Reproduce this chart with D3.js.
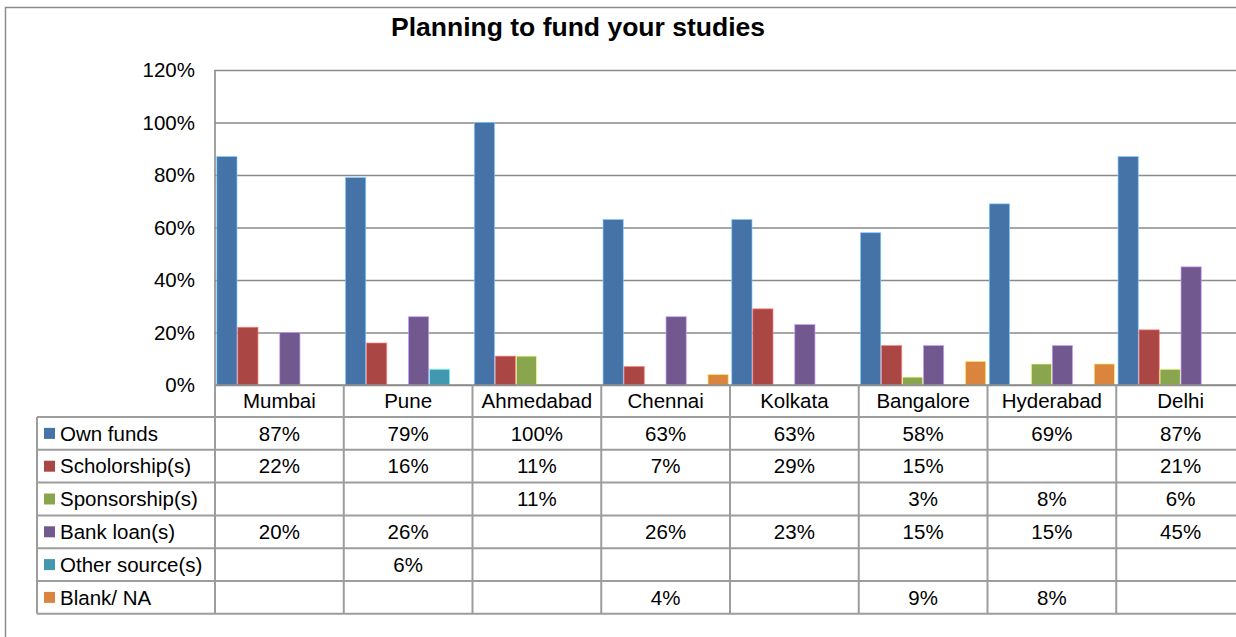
<!DOCTYPE html>
<html>
<head>
<meta charset="utf-8">
<script src="https://cdn.jsdelivr.net/npm/d3@7"></script>
<style>
  html, body { margin: 0; padding: 0; background: #fff; }
  svg { display: block; font-family: "Liberation Sans", Arial, sans-serif; }
</style>
</head>
<body>
<svg id="chart" width="1236" height="637"></svg>
<script>
const title = "Planning to fund your studies";
const categories = ["Mumbai", "Pune", "Ahmedabad", "Chennai", "Kolkata", "Bangalore", "Hyderabad", "Delhi"];
const seriesNames = ["Own funds", "Scholorship(s)", "Sponsorship(s)", "Bank loan(s)", "Other source(s)", "Blank/ NA"];
const seriesColors = ["#4572A7", "#AA4643", "#89A54E", "#71588F", "#4198AF", "#DB843D"];
const ownFunds     = [87, 79, 100, 63, 63, 58, 69, 87];
const scholarships = [22, 16, 11, 7, 29, 15, null, 21];
const sponsorships = [null, null, 11, null, null, 3, 8, 6];
const bankLoans    = [20, 26, null, 26, 23, 15, 15, 45];
const otherSources = [null, 6, null, null, null, null, null, null];
const blankNA      = [null, null, null, 4, null, 9, 8, null];
const yTicks = [0, 20, 40, 60, 80, 100, 120];

const seriesValues = [ownFunds, scholarships, sponsorships, bankLoans, otherSources, blankNA];

const svg = d3.select("#chart");
const W = 1236, H = 637;

// outer frame
svg.append("rect").attr("x", 5.5).attr("y", 7.5).attr("width", 1300).attr("height", 700)
  .attr("fill", "#fff").attr("stroke", "#8c8c8c").attr("stroke-width", 1.5);

// title
svg.append("text").attr("x", 578).attr("y", 36).attr("text-anchor", "middle")
  .attr("font-weight", "bold").attr("font-size", 26.5).attr("fill", "#000").text(title);

const plotLeft = 215, plotRight = 1245, plotTop = 70, plotBottom = 385;
const x0 = d3.scaleBand().domain(categories).range([plotLeft, plotRight]).padding(0);
const gap = 2.8;
const x1 = d3.scaleBand().domain(seriesNames).range([gap / 2, x0.bandwidth() - gap / 2]).padding(0);
const y = d3.scaleLinear().domain([0, 120]).range([plotBottom, plotTop]);

// gridlines
const yAxis = d3.axisLeft(y).tickValues(yTicks).tickFormat(d => d + "%").tickSize(-(plotRight - plotLeft)).tickPadding(20);
const gy = svg.append("g").attr("transform", `translate(${plotLeft},0)`).call(yAxis);
gy.select(".domain").remove();
gy.selectAll(".tick line").attr("stroke", "#8a8a8a").attr("stroke-width", 1.6);
gy.selectAll(".tick text").attr("font-size", 20.5).attr("fill", "#000")
  .attr("font-family", "'Liberation Sans', Arial, sans-serif");

// y axis line
svg.append("line").attr("x1", plotLeft).attr("x2", plotLeft).attr("y1", plotTop).attr("y2", plotBottom)
  .attr("stroke", "#8a8a8a").attr("stroke-width", 1.6);

// bars
const barData = [];
categories.forEach((c, ci) => {
  seriesNames.forEach((s, si) => {
    const v = seriesValues[si][ci];
    if (v != null) barData.push({ c, s, si, v });
  });
});
svg.append("g").selectAll("rect").data(barData).join("rect")
  .attr("x", d => x0(d.c) + x1(d.s) + 0.4)
  .attr("width", x1.bandwidth() - 0.8)
  .attr("y", d => y(d.v))
  .attr("height", d => y(0) - y(d.v))
  .attr("fill", d => seriesColors[d.si])
  .attr("stroke", d => d3.color(seriesColors[d.si]).brighter(1.6))
  .attr("stroke-width", 0.7);

// x axis line
svg.append("line").attr("x1", plotLeft).attr("x2", W).attr("y1", plotBottom).attr("y2", plotBottom)
  .attr("stroke", "#8a8a8a").attr("stroke-width", 1.6);

// data table
const tableLeft = 37;
const rowH = 32.8;
const headerTop = plotBottom;
const rowsTop = headerTop + 32;
const tableBottom = rowsTop + rowH * seriesNames.length;
const lineColor = "#9d9d9d";
const tg = svg.append("g");

// header vertical separators
categories.forEach((c, ci) => {
  tg.append("line").attr("x1", x0(c)).attr("x2", x0(c)).attr("y1", headerTop).attr("y2", tableBottom)
    .attr("stroke", lineColor).attr("stroke-width", 2);
});
tg.append("line").attr("x1", tableLeft).attr("x2", tableLeft).attr("y1", rowsTop).attr("y2", tableBottom)
  .attr("stroke", lineColor).attr("stroke-width", 2);
// horizontal lines
for (let i = 0; i <= seriesNames.length; i++) {
  const yy = rowsTop + i * rowH;
  tg.append("line").attr("x1", tableLeft).attr("x2", W).attr("y1", yy).attr("y2", yy)
    .attr("stroke", lineColor).attr("stroke-width", 2);
}
// category headers
tg.selectAll("text.cat").data(categories).join("text").attr("class", "cat")
  .attr("x", d => x0(d) + x0.bandwidth() / 2)
  .attr("y", headerTop + 16)
  .attr("dy", "0.35em")
  .attr("text-anchor", "middle").attr("font-size", 20.5).attr("fill", "#000")
  .text(d => d);
// rows
seriesNames.forEach((s, si) => {
  const cy = rowsTop + si * rowH + rowH / 2;
  tg.append("rect").attr("x", 44).attr("y", cy - 5.5).attr("width", 11).attr("height", 11)
    .attr("fill", seriesColors[si]);
  tg.append("text").attr("x", 60).attr("y", cy).attr("dy", "0.35em")
    .attr("font-size", 20.5).attr("fill", "#000").text(s);
  categories.forEach((c, ci) => {
    const v = seriesValues[si][ci];
    if (v == null) return;
    tg.append("text").attr("x", x0(c) + x0.bandwidth() / 2).attr("y", cy).attr("dy", "0.35em")
      .attr("text-anchor", "middle").attr("font-size", 20.5).attr("fill", "#000").text(v + "%");
  });
});
</script>
</body>
</html>
